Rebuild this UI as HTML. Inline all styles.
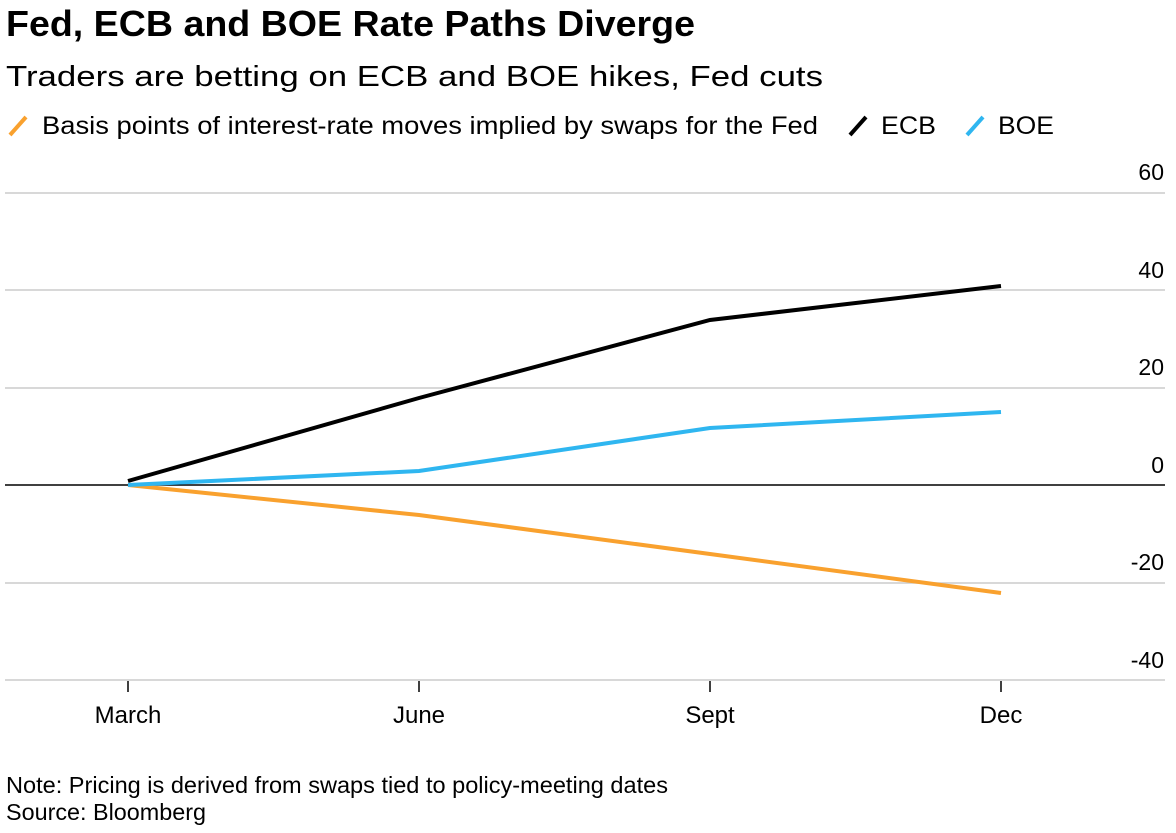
<!DOCTYPE html>
<html><head><meta charset="utf-8"><style>
body{margin:0;background:#fff;width:1176px;height:828px;overflow:hidden;font-family:"Liberation Sans",sans-serif;}
</style></head><body>
<svg width="1176" height="828" xmlns="http://www.w3.org/2000/svg" font-family="Liberation Sans, sans-serif">
<text x="6" y="36" font-size="36" font-weight="bold" fill="#000" textLength="689" lengthAdjust="spacingAndGlyphs">Fed, ECB and BOE Rate Paths Diverge</text>
<text x="6" y="86" font-size="29" fill="#000" textLength="817" lengthAdjust="spacingAndGlyphs">Traders are betting on ECB and BOE hikes, Fed cuts</text>
<g font-size="25" fill="#000">
<line x1="10" y1="135" x2="26" y2="117" stroke="#f9a12e" stroke-width="4"/>
<text x="42" y="134" textLength="776" lengthAdjust="spacingAndGlyphs">Basis points of interest-rate moves implied by swaps for the Fed</text>
<line x1="850" y1="135" x2="866" y2="117" stroke="#000" stroke-width="4"/>
<text x="881" y="134" textLength="55" lengthAdjust="spacingAndGlyphs">ECB</text>
<line x1="967" y1="135" x2="983" y2="117" stroke="#2fb6f0" stroke-width="4"/>
<text x="998" y="134" textLength="56" lengthAdjust="spacingAndGlyphs">BOE</text>
</g>
<g stroke="#ccc" stroke-width="1.5">
<line x1="5" y1="193" x2="1165" y2="193"/>
<line x1="5" y1="290" x2="1165" y2="290"/>
<line x1="5" y1="388" x2="1165" y2="388"/>
<line x1="5" y1="583" x2="1165" y2="583"/>
<line x1="5" y1="680" x2="1165" y2="680"/>
</g>
<line x1="5" y1="485" x2="1165" y2="485" stroke="#000" stroke-width="1.5"/>
<g font-size="23" fill="#000" text-anchor="end">
<text x="1164" y="180">60</text>
<text x="1164" y="278">40</text>
<text x="1164" y="375">20</text>
<text x="1164" y="473">0</text>
<text x="1164" y="570">-20</text>
<text x="1164" y="668">-40</text>
</g>
<g stroke="#000" stroke-width="1.5">
<line x1="128" y1="681" x2="128" y2="692"/>
<line x1="419" y1="681" x2="419" y2="692"/>
<line x1="710" y1="681" x2="710" y2="692"/>
<line x1="1001" y1="681" x2="1001" y2="692"/>
</g>
<g font-size="24" fill="#000" text-anchor="middle">
<text x="128" y="723">March</text>
<text x="419" y="723">June</text>
<text x="710" y="723">Sept</text>
<text x="1001" y="723">Dec</text>
</g>
<polyline points="128,485 419,515 710,554 1001,593" fill="none" stroke="#f9a12e" stroke-width="4"/>
<polyline points="128,485 419,471 710,428 1001,412" fill="none" stroke="#2fb6f0" stroke-width="4"/>
<polyline points="128,481 419,398 710,320 1001,286" fill="none" stroke="#000" stroke-width="4"/>
<text x="6" y="793" font-size="23" fill="#000" textLength="662" lengthAdjust="spacingAndGlyphs">Note: Pricing is derived from swaps tied to policy-meeting dates</text>
<text x="6" y="820" font-size="23" fill="#000" textLength="200" lengthAdjust="spacingAndGlyphs">Source: Bloomberg</text>
</svg>
</body></html>
